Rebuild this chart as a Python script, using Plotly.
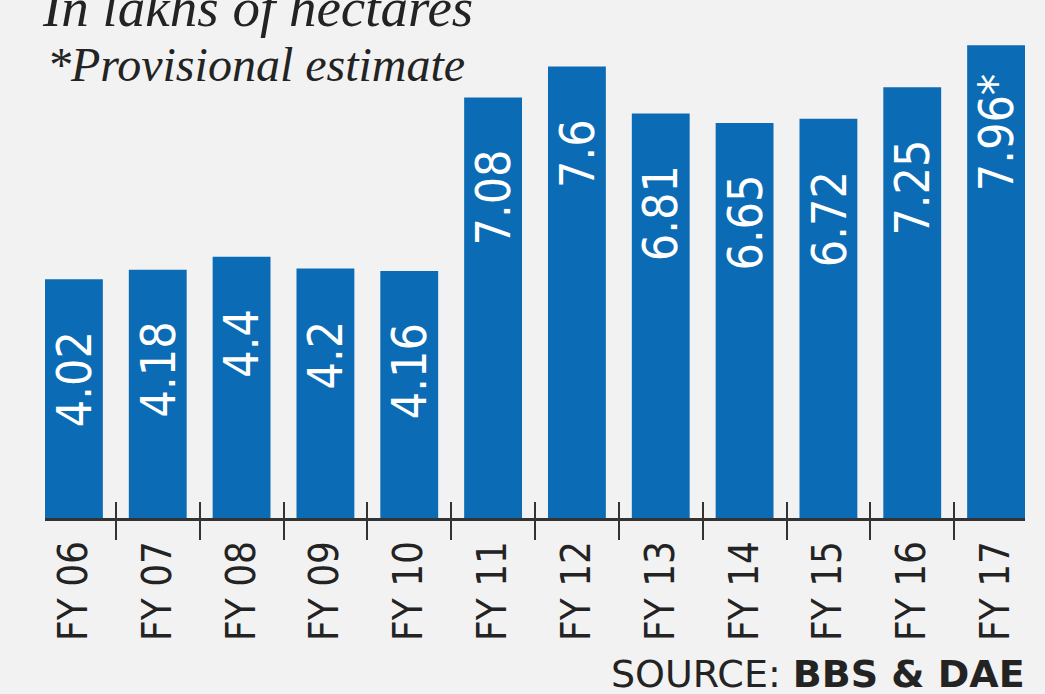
import plotly.graph_objects as go

categories = ["FY 06", "FY 07", "FY 08", "FY 09", "FY 10", "FY 11",
              "FY 12", "FY 13", "FY 14", "FY 15", "FY 16", "FY 17"]
values = [4.02, 4.18, 4.4, 4.2, 4.16, 7.08, 7.6, 6.81, 6.65, 6.72, 7.25, 7.96]
value_labels = ["4.02", "4.18", "4.4", "4.2", "4.16", "7.08", "7.6",
                "6.81", "6.65", "6.72", "7.25", "7.96*"]
title_line1 = "In lakhs of hectares"
title_line2 = "*Provisional estimate"
source_text = "SOURCE: <b>BBS & DAE</b>"

BG = "#f2f2f2"
BAR = "#0b6bb4"
INK = "#232323"
NARROW = "Liberation Sans Narrow, DejaVu Sans Condensed, Roboto, sans-serif"

fig = go.Figure()
fig.add_trace(go.Bar(x=categories, y=values, marker_color=BAR,
                     marker_line_width=0, hoverinfo="skip"))
# helper trace for the inside half of the boundary ticks
fig.add_trace(go.Bar(x=categories, y=values, xaxis="x2",
                     marker_color="rgba(0,0,0,0)", marker_line_width=0,
                     hoverinfo="skip", showlegend=False))

annotations = []
for c, v, t in zip(categories, values, value_labels):
    shift = -50 + (24 if t.endswith("*") else 0)
    annotations.append(dict(x=c, y=v, xref="x", yref="y", text=t,
                            showarrow=False, textangle=-90,
                            yanchor="top", xanchor="center", yshift=shift,
                            font=dict(family=NARROW, size=48, color="white")))

annotations += [
    dict(xref="paper", yref="paper", x=-5 / 980, y=0.985, xanchor="left",
         yanchor="middle", text=title_line1, showarrow=False,
         font=dict(family="Liberation Serif, serif", size=55, color=INK,
                   style="italic")),
    dict(xref="paper", yref="paper", x=0, y=0.875, xanchor="left",
         yanchor="middle", text=title_line2, showarrow=False,
         font=dict(family="Liberation Serif, serif", size=48, color=INK,
                   style="italic")),
    dict(xref="paper", yref="paper", x=1.002, y=-0.302, xanchor="right",
         yanchor="middle", text=source_text, showarrow=False,
         font=dict(family="DejaVu Sans, sans-serif", size=38, color=INK)),
]

fig.update_layout(
    width=1045, height=694,
    margin=dict(l=45, r=20, t=0, b=176),
    paper_bgcolor=BG, plot_bgcolor=BG,
    showlegend=False, bargap=0.31, barmode="overlay",
    xaxis=dict(type="category", categoryarray=categories,
               range=[-0.345, 11.345], showline=True, linecolor="#333333",
               linewidth=3, ticks="outside", tickson="boundaries",
               ticklen=19, tickwidth=2, tickcolor="#333333",
               tickangle=-90, ticklabelstandoff=4,
               tickfont=dict(family=NARROW, size=40, color=INK),
               showgrid=False, zeroline=False, fixedrange=True),
    xaxis2=dict(type="category", categoryarray=categories,
                range=[-0.345, 11.345], overlaying="x", anchor="y",
                side="bottom", showline=False, ticks="inside",
                tickson="boundaries", ticklen=16, tickwidth=2,
                tickcolor="#333333", showticklabels=False, showgrid=False,
                zeroline=False),
    yaxis=dict(range=[0, 518 / 59.4], visible=False, fixedrange=True),
    annotations=annotations,
)

fig.write_html("out.html")
